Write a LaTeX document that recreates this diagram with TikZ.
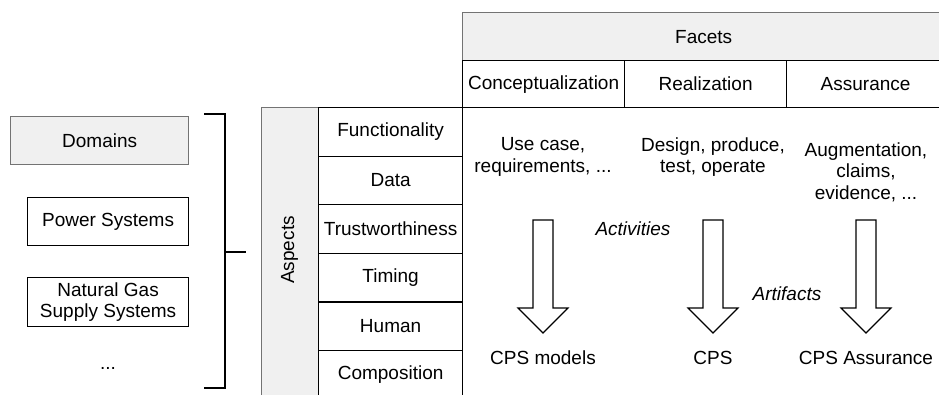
\documentclass[tikz,border=0pt]{standalone}
\usepackage{fontspec}
\setmainfont{Liberation Sans}
\begin{document}
\begin{tikzpicture}[x=1pt,y=-1pt,
  font=\fontsize{19}{21.5}\selectfont,
  graybox/.style={draw=black!55, fill=black!6, line width=1.3pt, inner sep=0pt},
  cell/.style={draw=black, line width=1.2pt, inner sep=0pt},
  plain/.style={inner sep=0pt, align=center},
  bracketline/.style={draw=black, line width=2.8pt},
  pics/barrow/.style={code={
    \draw[black, line width=1.2pt, fill=white] (-10,0) -- (10,0) -- (10,88) -- (25,88) -- (0,113) -- (-25,88) -- (-10,88) -- cycle;}}
]
\useasboundingbox (0,0) rectangle (939,394);

% Facets header
\node[graybox, anchor=north west, minimum width=482pt, minimum height=48pt] (facets) at (462,12) {Facets};
\node[cell, anchor=north west, minimum width=162pt, minimum height=47pt] (concept) at (462,60) {\raisebox{-1pt}{Conceptualization}};
\node[cell, anchor=north west, minimum width=162pt, minimum height=47pt] (real) at (624,60) {Realization};
\node[cell, anchor=north west, minimum width=158pt, minimum height=47pt] (assur) at (786,60) {Assurance};

% Aspects column
\node[graybox, anchor=north west, minimum width=57pt, minimum height=292pt] (aspects) at (261,107) {};
\node[plain, rotate=90] (aspectslbl) at (289.5,250) {Aspects};

% Aspect items
\node[cell, anchor=north west, minimum width=144pt, minimum height=48.6pt] (func) at (318,107) {Functionality};
\node[cell, anchor=north west, minimum width=144pt, minimum height=48.6pt] (data) at (318,155.6) {Data};
\node[cell, anchor=north west, minimum width=144pt, minimum height=48.6pt] (trust) at (318,204.2) {Trustworthiness};
\node[cell, anchor=north west, minimum width=144pt, minimum height=48.6pt] (timing) at (318,252.8) {Timing};
\node[cell, anchor=north west, minimum width=144pt, minimum height=48.6pt] (human) at (318,301.4) {Human};
\node[cell, anchor=north west, minimum width=144pt, minimum height=48.6pt] (compo) at (318,350) {Composition};

% Domains
\node[graybox, anchor=north west, minimum width=178pt, minimum height=48pt] (domains) at (10,116) {Domains};
\node[cell, anchor=north west, minimum width=161pt, minimum height=48pt] (power) at (27,197) {Power Systems};
\node[cell, anchor=north west, minimum width=161pt, minimum height=49pt, align=center] (gas) at (27,277) {Natural Gas\\Supply Systems};
\node[plain] (dots) at (108,368) {...};

% Bracket
\coordinate (btop) at (225,114);
\coordinate (bbot) at (225,388);
\coordinate (bmid) at (225,252);
\coordinate (bstub) at (246,252);
\draw[bracketline] (204,114) -- (btop) -- (bbot) -- (204,388);
\draw[bracketline] (bmid) -- (bstub);

% Activities texts
\node[plain] (uc) at (543,157) {Use case,\\requirements, ...};
\node[plain] (dp) at (713,157) {Design, produce,\\test, operate};
\node[plain] (aug) at (866,172) {Augmentation,\\claims,\\evidence, ...};

% Arrows
\pic at (543,220) {barrow};
\pic at (713,220) {barrow};
\pic at (866,220) {barrow};

\node[plain, font=\fontsize{19}{21.5}\selectfont\itshape] (act) at (633,229) {Activities};
\node[plain, font=\fontsize{19}{21.5}\selectfont\itshape] (art) at (787,294) {Artifacts};

% Artifacts
\node[plain] (cpsm) at (543,358) {CPS models};
\node[plain] (cps) at (713,358) {CPS};
\node[plain] (cpsa) at (866,358) {CPS Assurance};
\end{tikzpicture}
\end{document}
